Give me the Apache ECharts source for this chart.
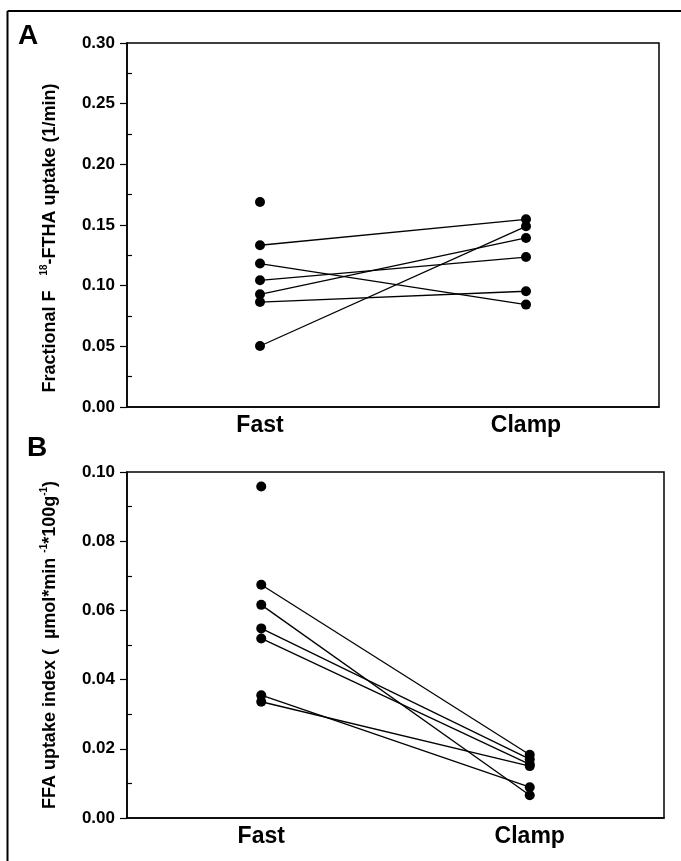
<!DOCTYPE html>
<html>
<head>
<meta charset="utf-8">
<script src="https://cdn.jsdelivr.net/npm/echarts@6/dist/echarts.min.js"></script>
<style>
  html, body { margin: 0; padding: 0; background: #fff; }
  #chart { width: 681px; height: 861px; }
</style>
</head>
<body>
<div id="chart"></div>
<script>
// groups on the x axis
const categories = ['Fast', 'Clamp'];

// panel A: fractional 18F-FTHA uptake, one subject per index (null = no pair)
const fastA = [0.169, 0.1333, 0.1182, 0.1044, 0.0929, 0.0865, 0.0503];
const clampA = [null, 0.1547, 0.0844, 0.1236, 0.1393, 0.0954, 0.1489];
const ticksA = { min: 0, max: 0.3, interval: 0.05 };

// panel B: FFA uptake index
const fastB = [0.0958, 0.0674, 0.0616, 0.0548, 0.0519, 0.0355, 0.0336];
const clampB = [null, 0.0183, 0.0066, 0.0170, 0.0155, 0.0089, 0.0150];
const ticksB = { min: 0, max: 0.1, interval: 0.02 };

const font = 'Liberation Sans, Arial, sans-serif';

function pairSeries(fast, clamp, axisIdx) {
  return fast.map((f, i) => ({
    type: 'line',
    xAxisIndex: axisIdx,
    yAxisIndex: axisIdx * 2,
    data: [f, clamp[i]],
    symbol: 'circle',
    symbolSize: 10,
    showAllSymbol: true,
    connectNulls: false,
    itemStyle: { color: '#000' },
    lineStyle: { color: '#000', width: 1.3 },
    silent: true,
    z: 3
  }))
}

function yAxes(ticks, gridIdx, name, namePad) {
  return [
    {
      type: 'value',
      gridIndex: gridIdx,
      min: ticks.min,
      max: ticks.max,
      interval: ticks.interval,
      splitLine: { show: false },
      axisLine: { show: true, lineStyle: { color: '#000', width: 1.5 } },
      axisTick: { show: true, length: 7, lineStyle: { color: '#000', width: 1.2 } },
      axisLabel: {
        color: '#000', fontSize: 17, fontWeight: 'bold', fontFamily: font, margin: 12,
        formatter: v => v.toFixed(2)
      },
      name: name,
      nameLocation: 'middle',
      nameGap: 66,
      nameRotate: 90,
      nameTextStyle: {
        color: '#000',
        fontFamily: font,
        padding: namePad,
        rich: {
          a: { fontSize: 18, fontWeight: 'bold', fontFamily: font, color: '#000', lineHeight: 22 },
          s: { fontSize: 10, fontWeight: 'bold', fontFamily: font, color: '#000', lineHeight: 22, verticalAlign: 'top' }
        }
      }
    },
    {
      // inward minor ticks between the labelled ones
      type: 'value',
      gridIndex: gridIdx,
      position: 'left',
      min: ticks.min,
      max: ticks.max,
      interval: ticks.interval,
      splitLine: { show: false },
      axisLine: { show: false },
      axisLabel: { show: false },
      axisTick: { show: false, inside: true },
      minorTick: { show: true, splitNumber: 2, length: 5, lineStyle: { color: '#000', width: 1.2 } }
    }
  ]
}

function xAxis(gridIdx) {
  return {
    type: 'category',
    gridIndex: gridIdx,
    data: categories,
    boundaryGap: true,
    axisLine: { show: true, lineStyle: { color: '#000', width: 1.5 } },
    axisTick: { show: false },
    axisLabel: { color: '#000', fontSize: 23, fontWeight: 'bold', fontFamily: font, margin: 7 }
  }
}

const chart = echarts.init(document.getElementById('chart'));
chart.setOption({
  animation: false,
  backgroundColor: '#fff',
  grid: [
    { left: 127, top: 43, right: 22, height: 364, show: true, borderColor: '#000', borderWidth: 1.5 },
    { left: 127, top: 472, right: 17, height: 346, show: true, borderColor: '#000', borderWidth: 1.5 }
  ],
  xAxis: [xAxis(0), xAxis(1)],
  yAxis: [
    ...yAxes(ticksA, 0, '{a|Fractional F   }{s|18}{a|-FTHA uptake (1/min)}', [0, 26, 0, 0]),
    ...yAxes(ticksB, 1, '{a|FFA uptake index (  µmol*min }{s|-1}{a|*100g}{s|-1}{a|)}', 0)
  ],
  series: [...pairSeries(fastA, clampA, 0), ...pairSeries(fastB, clampB, 1)],
  graphic: [
    { type: 'line', shape: { x1: 7.5, y1: 11, x2: 681, y2: 11 }, style: { stroke: '#000', lineWidth: 2 } },
    { type: 'line', shape: { x1: 7.5, y1: 11, x2: 7.5, y2: 861 }, style: { stroke: '#000', lineWidth: 2 } },
    { type: 'text', left: 18, top: 22, style: { text: 'A', fontSize: 28, fontWeight: 'bold', fontFamily: font, fill: '#000' } },
    { type: 'text', left: 27, top: 434, style: { text: 'B', fontSize: 28, fontWeight: 'bold', fontFamily: font, fill: '#000' } }
  ]
});
</script>
</body>
</html>
